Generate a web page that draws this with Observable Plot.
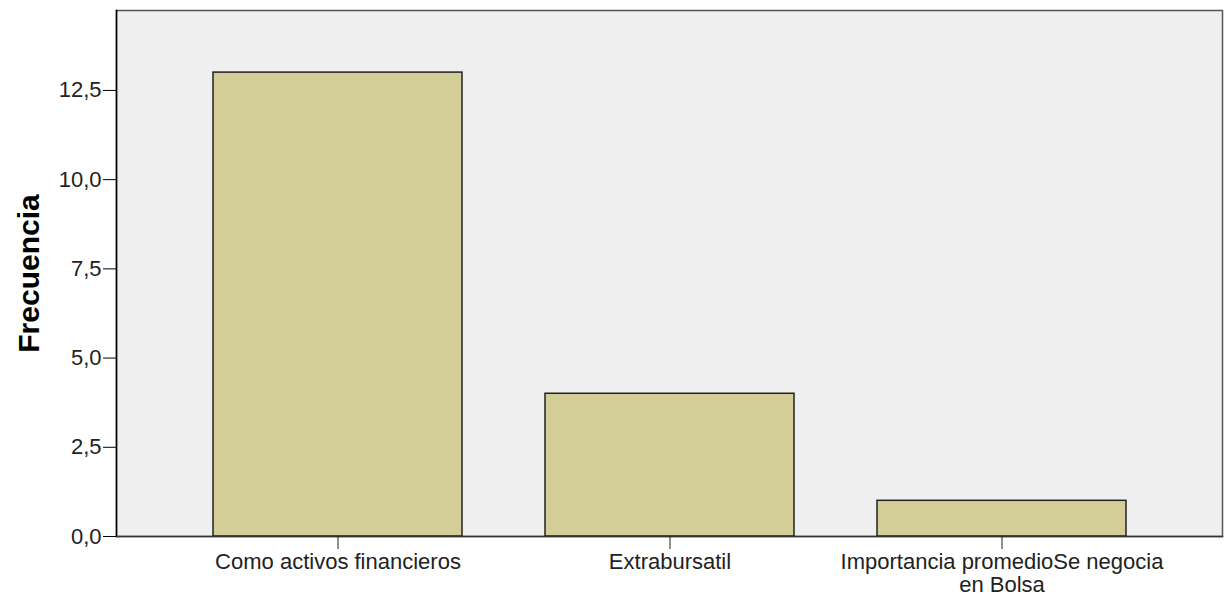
<!DOCTYPE html>
<html><head><meta charset="utf-8">
<script src="https://cdn.jsdelivr.net/npm/d3@7"></script>
<script src="https://cdn.jsdelivr.net/npm/@observablehq/plot@0.6"></script>
<style>html,body{margin:0;padding:0;background:#fff;}</style>
</head><body><div id="chart"></div>
<script>
const categories = ["Como activos financieros", "Extrabursatil", "Importancia promedioSe negocia\nen Bolsa"];
const values = [13, 4, 1];
const yTicks = [0, 2.5, 5, 7.5, 10, 12.5];
const yLabel = "Frecuencia";

const data = categories.map((c, i) => ({cat: c, value: values[i]}));

const chart = Plot.plot({
  width: 1230, height: 599,
  marginLeft: 116, marginRight: 8, marginTop: 10, marginBottom: 63,
  style: {fontFamily: "'Liberation Sans', Arial, sans-serif", fontSize: "22px", background: "#fff", color: "#222"},
  x: {domain: categories, paddingInner: 0.25, paddingOuter: 0.29, label: null},
  y: {domain: [0, 14.74], label: null},
  marks: [
    Plot.frame({fill: "#efefef", stroke: "#555", strokeWidth: 1.5}),
    Plot.barY(data, {x: "cat", y: "value", fill: "#d3ce97", stroke: "#222", strokeWidth: 1.5}),
    Plot.frame({anchor: "left", stroke: "#000", strokeWidth: 1.5}),
    Plot.frame({anchor: "bottom", stroke: "#333", strokeWidth: 1.5}),
    Plot.axisY({ticks: yTicks, tickFormat: d => d.toFixed(1).replace(".", ","), tickSize: 13, tickPadding: 2, label: null, fontSize: 22, stroke: "#000"}),
    Plot.axisX({tickSize: 13, tickPadding: 3, label: null, fontSize: 22, lineHeight: 1.05, stroke: "#222"}),
    Plot.text([yLabel], {frameAnchor: "left", textAnchor: "middle", rotate: -90, dx: -87, fontSize: 30, fontWeight: "bold", fill: "#000"})
  ]
});
document.getElementById("chart").appendChild(chart);
</script>
</body></html>
